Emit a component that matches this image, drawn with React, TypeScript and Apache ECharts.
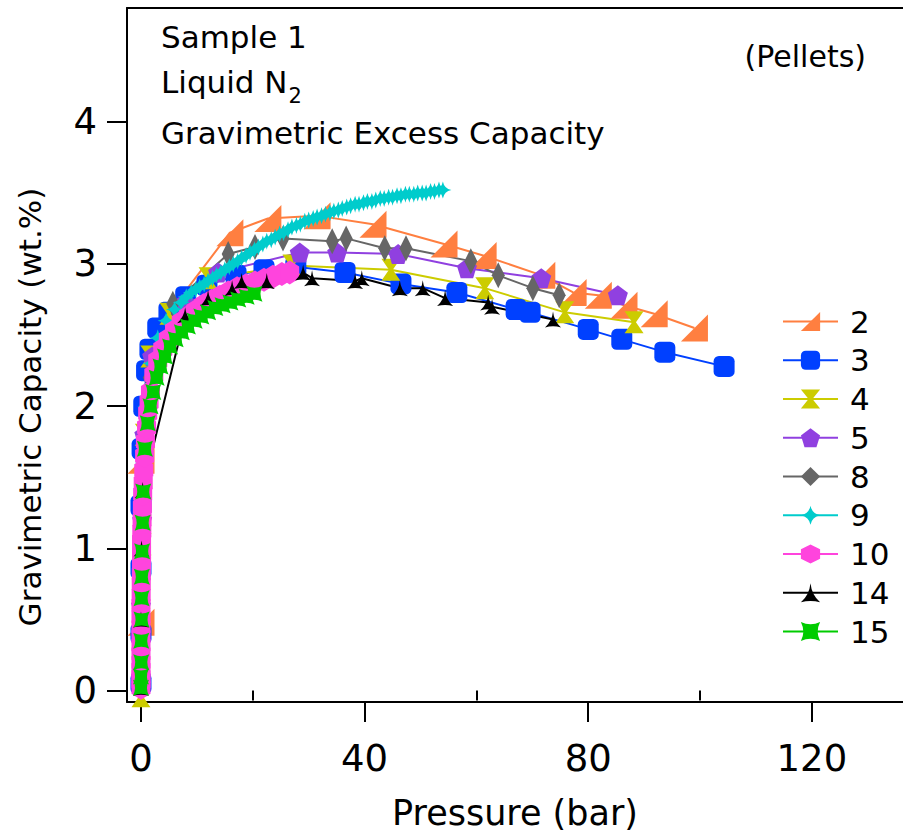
import React, { useEffect, useRef } from "react";
import * as echarts from "echarts";

const seriesNames = ["2", "3", "4", "5", "8", "9", "10", "14", "15"];
const seriesColors = ["#FF7F40", "#0040FF", "#CCCC00", "#9040E0", "#666666", "#00CCCC", "#FF44DD", "#000000", "#00CC00"];

const xTickLabels = [0, 40, 80, 120];
const xMinorTicks = [20, 60, 100];
const yTickLabels = [0, 1, 2, 3, 4];

const s2 = [[0, 0.48], [0, 1.62], [3.9, 2.6], [15.9, 3.22], [22.7, 3.32], [31.5, 3.34], [41.5, 3.28], [54.2, 3.14], [61.2, 3.06], [71.7, 2.92], [77.3, 2.8], [81.8, 2.78], [86.4, 2.71], [91.8, 2.65], [99, 2.55]];
const s3 = [[0, 0.05], [0, 0.4], [0, 0.86], [0, 1.3], [0.2, 1.7], [0.5, 2.0], [1, 2.25], [1.6, 2.4], [3, 2.55], [5, 2.66], [8, 2.77], [11.8, 2.85], [17, 2.92], [22, 2.96], [27.7, 2.98], [36.5, 2.94], [46.5, 2.86], [56.5, 2.8], [67.1, 2.68], [69.6, 2.66], [80, 2.54], [86, 2.47], [93.7, 2.38], [104.3, 2.28]];
const s4 = [[0, -0.04], [0, 0.5], [0.2, 1.03], [0.6, 1.8], [1.6, 2.35], [5, 2.65], [12, 2.9], [27, 2.99], [44.7, 2.96], [61.5, 2.83], [75.8, 2.66], [88.2, 2.59]];
const s5 = [[0, 0.1], [0, 0.6], [0.2, 1.2], [0.6, 1.8], [2, 2.35], [7.9, 2.73], [13.8, 2.94], [28.4, 3.08], [35.1, 3.08], [46, 3.07], [58.3, 2.97], [71.6, 2.9], [85.3, 2.78]];
const s8 = [[0, 0.1], [0, 0.7], [0.3, 1.5], [1.5, 2.2], [5.7, 2.72], [15.6, 3.07], [20.4, 3.12], [25.4, 3.18], [34.2, 3.16], [36.7, 3.18], [43.6, 3.11], [47.4, 3.11], [59, 3.02], [63.9, 2.92], [70.1, 2.83], [74.8, 2.78]];
const s9 = [[0, 0.1], [0, 0.4], [0.1, 0.8], [0.2, 1.2], [0.4, 1.6], [0.9, 2.0], [1.8, 2.3], [3, 2.48], [4.5, 2.6], [6, 2.68], [7.2, 2.73], [8.1, 2.77], [9, 2.8], [9.8, 2.82], [10.5, 2.84], [11.3, 2.86], [12, 2.88], [12.8, 2.9], [13.5, 2.92], [14.3, 2.94], [15, 2.96], [15.8, 2.98], [16.5, 3.0], [17.3, 3.02], [18, 3.04], [18.8, 3.06], [19.5, 3.08], [20.3, 3.1], [21, 3.12], [21.8, 3.14], [22.5, 3.16], [23.3, 3.17], [24, 3.19], [24.8, 3.21], [25.5, 3.22], [26.3, 3.24], [27, 3.26], [27.8, 3.27], [28.5, 3.28], [29.3, 3.3], [30, 3.31], [30.8, 3.32], [31.5, 3.33], [32.3, 3.34], [33, 3.35], [33.8, 3.36], [34.5, 3.37], [35.3, 3.38], [36, 3.39], [36.8, 3.4], [37.5, 3.41], [38.3, 3.42], [39, 3.42], [39.8, 3.43], [40.5, 3.44], [41.3, 3.44], [42, 3.45], [42.8, 3.46], [43.5, 3.46], [44.3, 3.47], [45, 3.47], [45.8, 3.48], [46.5, 3.48], [47.3, 3.49], [48, 3.49], [48.8, 3.49], [49.5, 3.5], [50.3, 3.5], [51, 3.5], [51.8, 3.51], [52.5, 3.51], [53.3, 3.52], [54, 3.52]];
const s10 = [[0, 0.02], [0, 0.06], [0, 0.1], [0, 0.15], [0, 0.2], [0, 0.26], [0, 0.32], [0, 0.38], [0, 0.45], [0, 0.52], [0, 0.6], [0.03, 0.67], [0.05, 0.75], [0.07, 0.82], [0.1, 0.9], [0.1, 0.97], [0.1, 1.05], [0.15, 1.12], [0.2, 1.2], [0.25, 1.29], [0.3, 1.38], [0.4, 1.46], [0.5, 1.55], [0.65, 1.65], [0.8, 1.75], [1.0, 1.85], [1.2, 1.95], [1.45, 2.03], [1.7, 2.1], [2.3, 2.22], [3, 2.32], [3.9, 2.4], [4.9, 2.47], [6, 2.53], [7.2, 2.59], [8.5, 2.63], [9.8, 2.67], [11.2, 2.71], [12.6, 2.74], [14.1, 2.77], [15.6, 2.8], [17.2, 2.83], [18.8, 2.85], [20.4, 2.87], [22, 2.89], [23.6, 2.91], [25.2, 2.93], [26.6, 2.94]];
const s14 = [[0, 0.02], [0, 0.5], [0.1, 1.0], [0.3, 1.41], [7.9, 2.64], [12, 2.76], [16.3, 2.83], [18, 2.88], [22.5, 2.88], [29, 2.94], [30.6, 2.9], [38.3, 2.88], [39.5, 2.9], [46.3, 2.83], [50.4, 2.83], [54.4, 2.76], [62.1, 2.73], [62.8, 2.7], [73.7, 2.61]];
const s15 = [[0, 0.02], [0, 0.1], [0.05, 0.2], [0.05, 0.35], [0.1, 0.5], [0.1, 0.65], [0.15, 0.8], [0.2, 0.98], [0.3, 1.18], [0.4, 1.4], [0.7, 1.7], [1.2, 1.88], [1.7, 2.0], [2.2, 2.1], [2.8, 2.2], [3.5, 2.28], [4.3, 2.35], [5.2, 2.42], [6.2, 2.47], [7.3, 2.52], [8.4, 2.56], [9.6, 2.6], [10.8, 2.63], [12, 2.66], [13.3, 2.69], [14.6, 2.71], [16, 2.73], [17.4, 2.75], [18.9, 2.77], [20.3, 2.79]];

const seriesData = [s2, s3, s4, s5, s8, s9, s10, s14, s15];

const symbols = [
  "path://M0,10L10,0L10,10Z",
  "roundRect",
  "path://M0,0L10,0L6,5L10,10L0,10L4,5Z",
  "path://M5,0L10,3.8L8.1,10L1.9,10L0,3.8Z",
  "diamond",
  "path://M5,0Q5.8,4.2,10,5Q5.8,5.8,5,10Q4.2,5.8,0,5Q4.2,4.2,5,0Z",
  "path://M5,0L9.33,2.5L9.33,7.5L5,10L0.67,7.5L0.67,2.5Z",
  "path://M5,0Q5.6,6,10,10Q5,8.6,0,10Q4.4,6,5,0Z",
  "path://M0,0Q5,2.5,10,0Q7.5,5,10,10Q5,7.5,0,10Q2.5,5,0,0Z",
];
const symbolSizes: any[] = [27, 21, [19, 22], 20, [13, 26], 17, [22, 24], 16, 16];

const FONT = "DejaVu Sans";

export default function App() {
  const ref = useRef<HTMLDivElement>(null);
  useEffect(() => {
    const chart = echarts.init(ref.current!, null, { renderer: "svg" });
    const xMin = -2.5, xMax = 136.3, yMin = -0.08, yMax = 4.8;
    const gridPos = { left: 127, right: 0, top: 8, bottom: 133, containLabel: false };
    const axisLineStyle = { color: "#000", width: 2 };
    const option: any = {
      animation: false,
      backgroundColor: "#fff",
      grid: [gridPos, gridPos],
      xAxis: [
        {
          type: "value", gridIndex: 0, min: xMin, max: xMax, position: "bottom",
          axisLine: { show: true, onZero: false, lineStyle: axisLineStyle },
          axisTick: { show: true, length: 20, customValues: xTickLabels, lineStyle: axisLineStyle },
          axisLabel: { customValues: xTickLabels, fontSize: 37, fontFamily: FONT, color: "#000", margin: 38 },
          splitLine: { show: false },
          name: "Pressure (bar)", nameLocation: "middle", nameGap: 93,
          nameTextStyle: { fontSize: 35, fontFamily: FONT, color: "#000" },
        },
        {
          type: "value", gridIndex: 1, min: xMin, max: xMax, position: "bottom",
          axisLine: { show: false },
          axisTick: { show: true, length: 10, customValues: xMinorTicks, lineStyle: axisLineStyle },
          axisLabel: { show: false },
          splitLine: { show: false },
        },
        {
          type: "value", gridIndex: 1, min: xMin, max: xMax, position: "top",
          axisLine: { show: true, onZero: false, lineStyle: axisLineStyle },
          axisTick: { show: false }, axisLabel: { show: false }, splitLine: { show: false },
        },
      ],
      yAxis: [
        {
          type: "value", gridIndex: 0, min: yMin, max: yMax,
          axisLine: { show: true, onZero: false, lineStyle: axisLineStyle },
          axisTick: { show: true, length: 20, customValues: yTickLabels, lineStyle: axisLineStyle },
          axisLabel: { customValues: yTickLabels, fontSize: 37, fontFamily: FONT, color: "#000", margin: 30 },
          splitLine: { show: false },
        },
        { type: "value", gridIndex: 1, min: yMin, max: yMax, show: false },
      ],
      legend: {
        orient: "vertical", left: 782, top: 306, padding: 0,
        itemWidth: 55, itemHeight: 24, itemGap: 7.75,
        selectedMode: false,
        data: seriesNames,
        textStyle: { fontSize: 31, lineHeight: 31, fontFamily: FONT, color: "#000", padding: [0, 0, 0, 7] },
      },
      graphic: [
        { type: "text", left: 161, top: 21, style: { text: "Sample 1", fontSize: 31, fontFamily: FONT, fill: "#000" } },
        {
          type: "text", left: 161, top: 66,
          style: {
            text: "{n|Liquid N}{s|2}", fontFamily: FONT, fill: "#000",
            rich: {
              n: { fontSize: 31, lineHeight: 40, fontFamily: FONT, fill: "#000", verticalAlign: "top" },
              s: { fontSize: 21, lineHeight: 40, fontFamily: FONT, fill: "#000", verticalAlign: "bottom", padding: [12, 0, 0, 1] },
            },
          },
        },
        { type: "text", left: 161, top: 117, style: { text: "Gravimetric Excess Capacity", fontSize: 31, fontFamily: FONT, fill: "#000" } },
        { type: "text", right: 37, top: 41, style: { text: "(Pellets)", fontSize: 30, fontFamily: FONT, fill: "#000" } },
        {
          type: "text", x: 30, y: 407, rotation: Math.PI / 2,
          style: { text: "Gravimetric Capacity (wt.%)", fontSize: 31, fontFamily: FONT, fill: "#000", align: "center", verticalAlign: "middle" },
        },
      ],
      series: seriesNames.map((name, i) => ({
        type: "line",
        name,
        xAxisIndex: 0,
        yAxisIndex: 0,
        data: seriesData[i],
        symbol: symbols[i],
        symbolSize: symbolSizes[i],
        symbolKeepAspect: true,
        lineStyle: { color: seriesColors[i], width: 2 },
        itemStyle: { color: seriesColors[i] },
        emphasis: { disabled: true },
        clip: true,
      })),
    };
    chart.setOption(option);
    return () => chart.dispose();
  }, []);
  return (
    <div
      ref={ref}
      style={{ position: "fixed", left: 0, top: 0, width: 903, height: 835, background: "#fff" }}
    />
  );
}
